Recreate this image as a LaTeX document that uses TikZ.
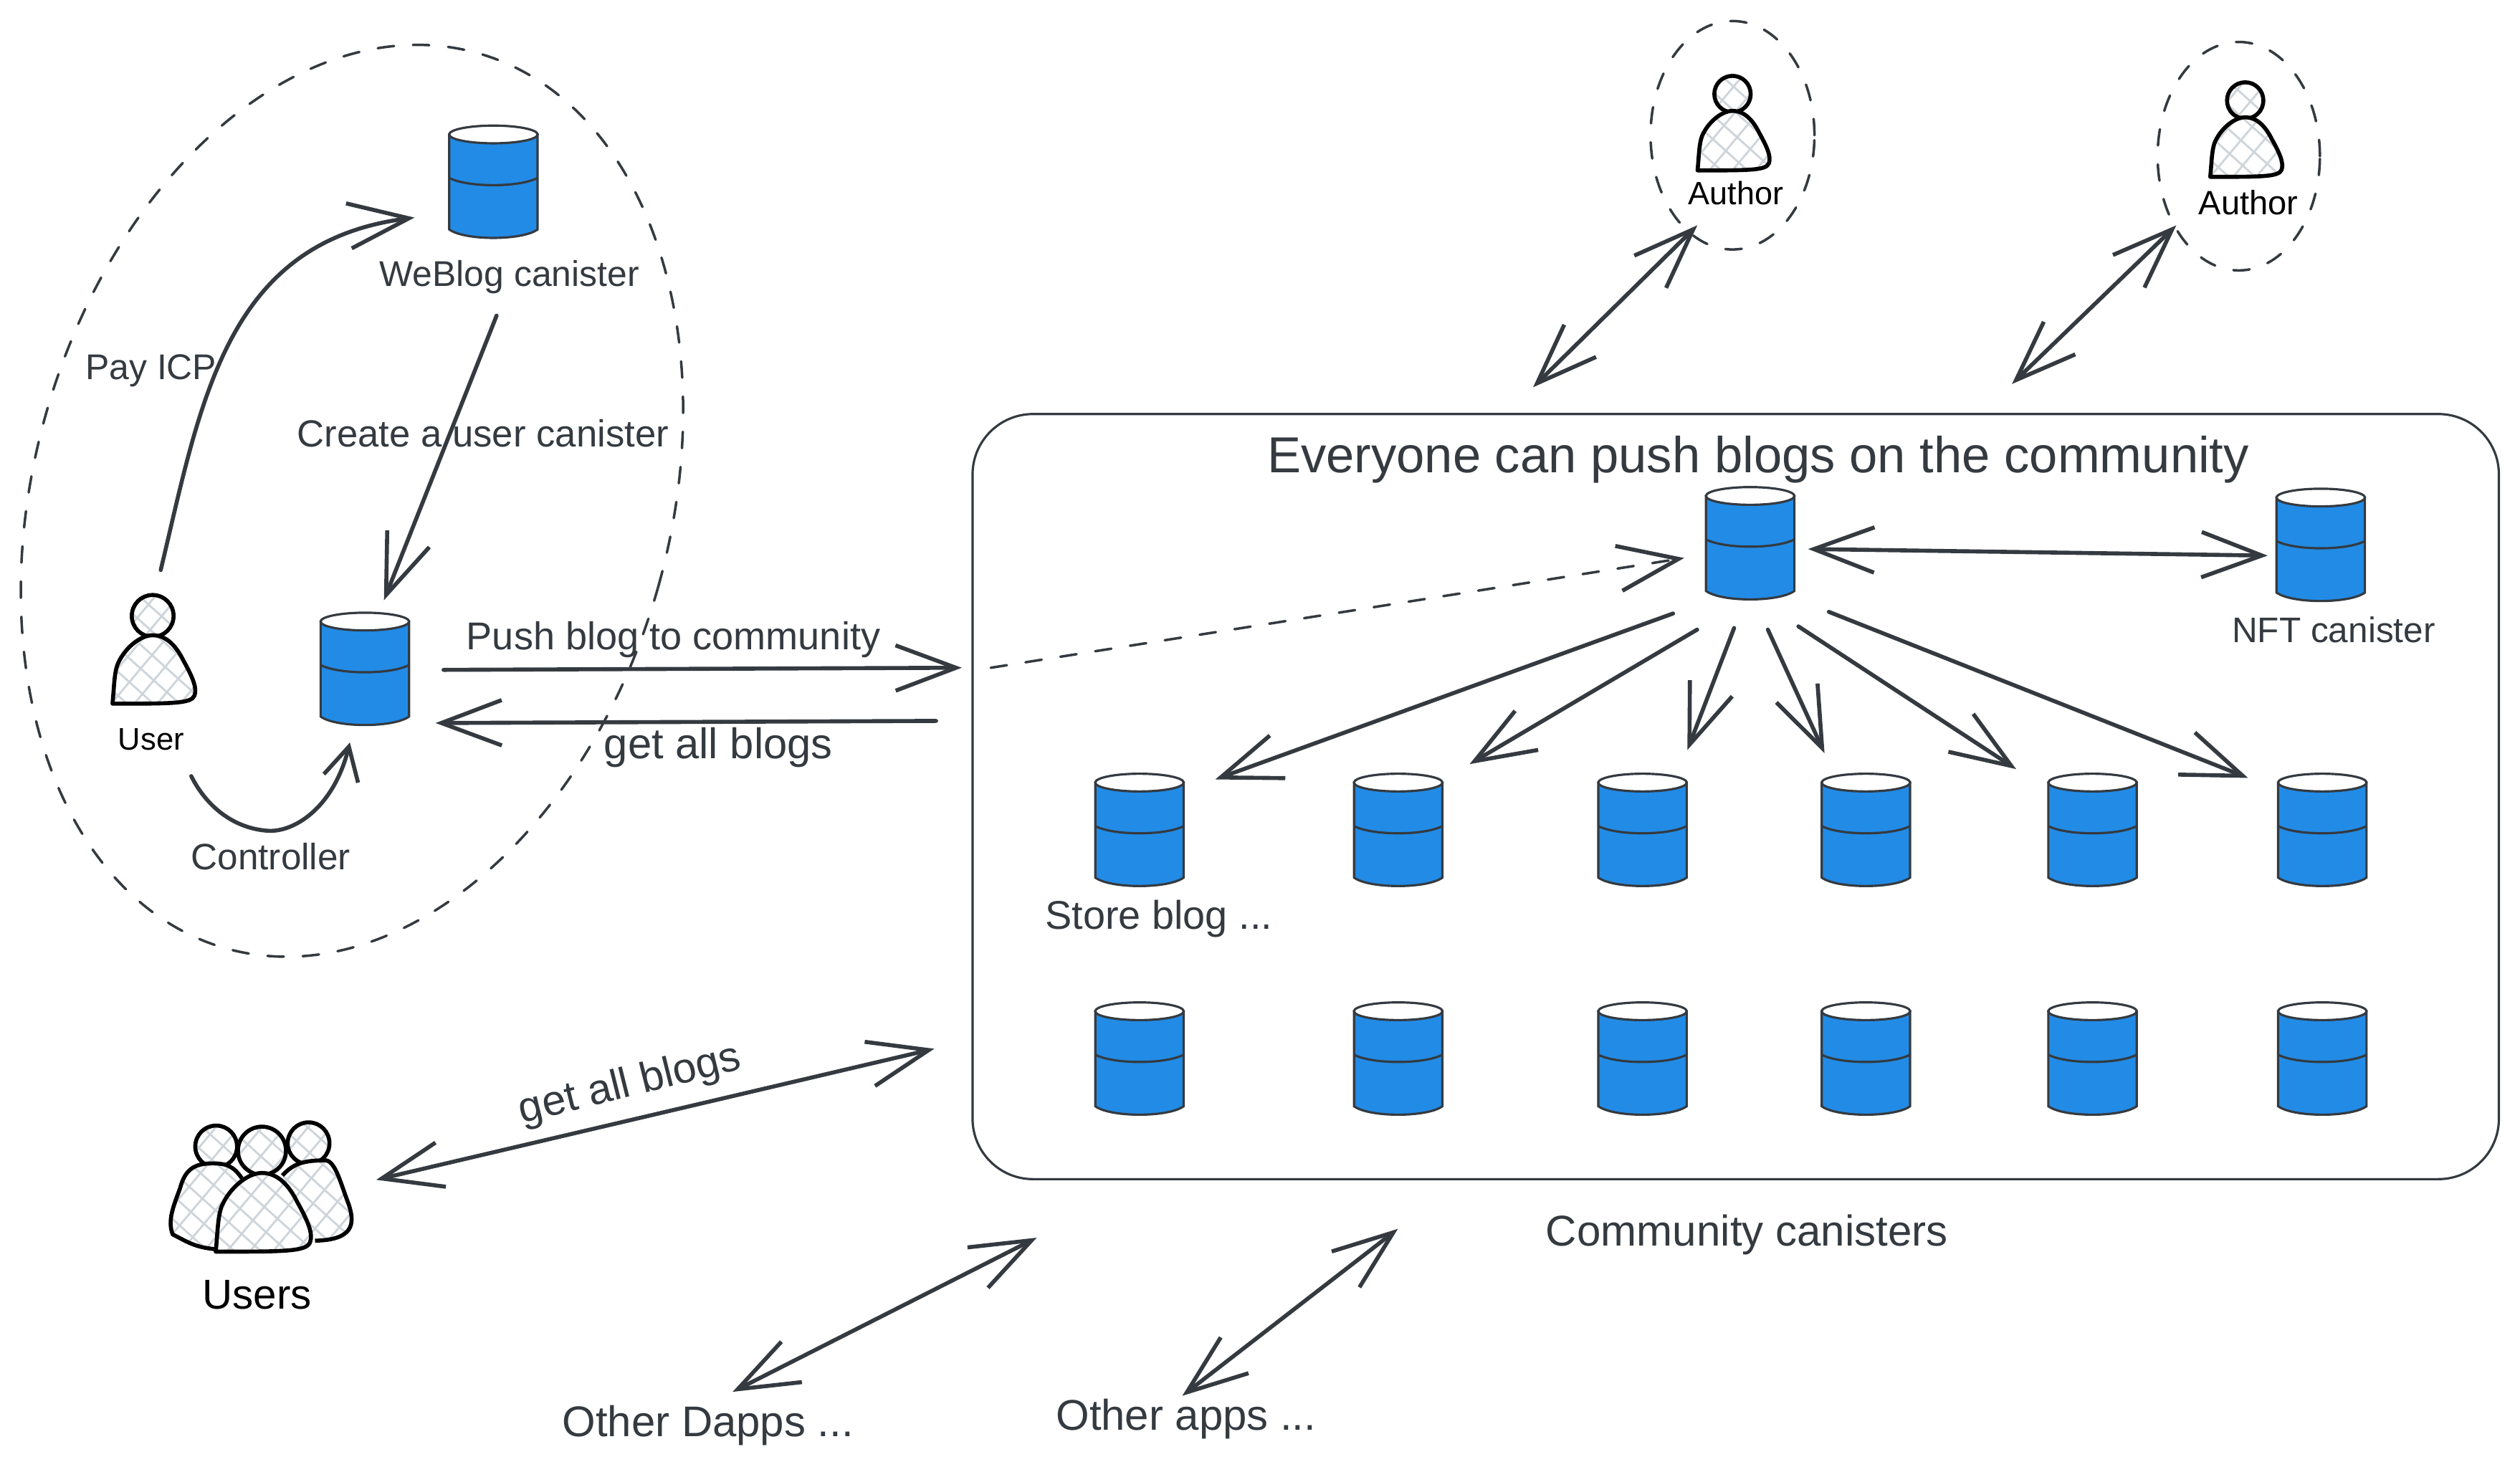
\documentclass[tikz,border=0pt]{standalone}
\usepackage{fontspec}
\setmainfont{Liberation Sans}
\usepackage{xcolor}
\definecolor{ink}{HTML}{343A40}
\definecolor{b1}{HTML}{228BE6}
\definecolor{h1}{HTML}{CED4DA}
\usetikzlibrary{arrows.meta,shapes.geometric,patterns.meta}
\newcommand{\fsz}[1]{\fontsize{#1}{#1}\selectfont}
\tikzset{
  bigtip/.tip={Straight Barb[length=24pt,width=18pt,line width=1.6pt]},
  smalltip/.tip={Straight Barb[length=13pt,width=14pt,line width=1.6pt]},
  link/.style={draw=ink,line width=1.6pt,line cap=round,shorten >=-1.9pt},
  bothway/.style={link,shorten <=-1.9pt},
  loosedash/.style={draw=ink,line width=1pt,line cap=round,dash pattern=on 6.5pt off 7.5pt},
  lbl/.style={text=ink,inner sep=0pt},
  hatched/.style={preaction={fill=white},preaction={pattern={Lines[angle=50,distance=7pt,line width=0.8pt]},pattern color=h1},pattern={Lines[angle=-42,distance=7pt,line width=0.8pt]},pattern color=h1},
  canister/.style={inner sep=0pt,minimum width=1.3cm,minimum height=1.66cm,path picture={
    \begin{scope}[shift={(path picture bounding box.center)},line width=0.9pt]
      \draw[draw=ink,fill=b1] (-27.5,-30) -- (27.5,-30) -- (27.5,29) .. controls (18,36) and (-18,36) .. (-27.5,29) -- cycle;
      \draw[draw=ink] (-27.5,-3) .. controls (-16,3) and (16,3) .. (27.5,-3);
      \draw[draw=ink,fill=white] (0,-30) ellipse [x radius=27.5,y radius=5.5];
    \end{scope}}},
  person/.pic={
    \draw[line width=1.6pt,hatched] (0,-22.5) circle [radius=13];
    \draw[line width=1.6pt,line join=round,hatched] (-25,32) .. controls (-24,22) and (-24,14) .. (-22,8) .. controls (-18,-2) and (-8,-10.5) .. (0,-10.5) .. controls (9,-10.5) and (15,-3) .. (19,5) .. controls (24,14) and (28,22) .. (26,27) .. controls (24,32) and (12,32) .. (-25,32) -- cycle;
  }
}
\begin{document}
\begin{tikzpicture}[x=0.022423cm,y=-0.02248cm]
  \useasboundingbox (0,0) rectangle (1568,911);
  % scopes
  \node[loosedash,ellipse,inner sep=0pt,minimum width=396*0.638pt,minimum height=578*0.639pt,rotate=-15.7] (ownerzone) at (219,311) {};
  \node[loosedash,ellipse,inner sep=0pt,minimum width=102*0.638pt,minimum height=142*0.639pt] (authorzonea) at (1078,84) {};
  \node[loosedash,ellipse,inner sep=0pt,minimum width=101*0.638pt,minimum height=142*0.639pt] (authorzoneb) at (1393,97) {};
  \node[draw=ink,line width=0.9pt,rounded corners=24pt,inner sep=0pt,minimum width=950*0.638pt,minimum height=475.5*0.639pt] (community) at (1080,494.7) {};

  % canisters
  \node[canister] (weblog) at (307,113.5) {};
  \node[canister] (usercan) at (227,416) {};
  \node[canister] (hub) at (1089,338) {};
  \node[canister] (nft) at (1444,339) {};
  \node[canister] (storea) at (709,516) {};
  \node[canister] (storeb) at (870,516) {};
  \node[canister] (storec) at (1022,516) {};
  \node[canister] (stored) at (1161,516) {};
  \node[canister] (storee) at (1302,516) {};
  \node[canister] (storef) at (1445,516) {};
  \node[canister] (storeg) at (709,658) {};
  \node[canister] (storeh) at (870,658) {};
  \node[canister] (storei) at (1022,658) {};
  \node[canister] (storej) at (1161,658) {};
  \node[canister] (storek) at (1302,658) {};
  \node[canister] (storel) at (1445,658) {};

  % people
  \pic at (95,405) {person};
  \pic[scale=0.87] at (1078,78) {person};
  \pic[scale=0.87] at (1397,82) {person};
  \draw[line width=1.6pt,hatched] (134.5,712) circle [radius=13];
  \draw[line width=1.6pt,hatched] (192,710) circle [radius=13];
  \draw[line width=1.6pt,hatched] (150.5,731.7) .. controls (145,724) and (141,722.5) .. (132,722.5) .. controls (120,722.5) and (115,727) .. (112,738) .. controls (108,749) and (104,758) .. (107.5,766.6) .. controls (118,772) and (122,775) .. (137,776);
  \draw[line width=1.6pt,hatched] (175.7,730) .. controls (183,722) and (190,720.6) .. (203,720.6) .. controls (209,722) and (212,735) .. (217,748) .. controls (221,760) and (220,770) .. (196,770.5);
  \pic[scale=1.15] at (163,740.5) {person};

  % labels
  \node[lbl,font=\fsz{14.2}] (weblogtxt) at (317,172) {WeBlog canister};
  \node[lbl,font=\fsz{14.2}] (paytxt) at (94,230) {Pay ICP};
  \node[lbl,font=\fsz{15}] (createtxt) at (300.5,269) {Create a user canister};
  \node[lbl,font=\fsz{15.4}] (pushtxt) at (419,397) {Push blog to community};
  \node[lbl,font=\fsz{17}] (gettxt) at (447,464) {get all blogs};
  \node[inner sep=0pt,font=\fsz{12.4}] (usertxt) at (94,459) {User};
  \node[lbl,font=\fsz{14.6}] (ctrltxt) at (168.5,532) {Controller};
  \node[lbl,font=\fsz{20.1}] (titletxt) at (1094,285.5) {Everyone can push blogs on the community};
  \node[lbl,font=\fsz{14.1}] (nfttxt) at (1452,391) {NFT canister};
  \node[lbl,font=\fsz{15.9}] (storetxt) at (721,570.5) {Store blog ...};
  \node[inner sep=0pt,font=\fsz{12.8}] (authortxta) at (1080,120) {Author};
  \node[inner sep=0pt,font=\fsz{13.4}] (authortxtb) at (1399,126) {Author};
  \node[inner sep=0pt,font=\fsz{16.6}] (userstxt) at (160,804) {Users};
  \node[lbl,font=\fsz{16.9},rotate=14] (getrottxt) at (392,674) {get all blogs};
  \node[lbl,font=\fsz{17.1}] (commtxt) at (1087,767) {Community canisters};
  \node[lbl,font=\fsz{17.05}] (dappstxt) at (440.5,885) {Other Dapps ...};
  \node[lbl,font=\fsz{17.05}] (appstxt) at (738,881) {Other apps ...};

  % owner side
  \draw[link,-{bigtip}] ([shift={(6,-105)}]usertxt.center) .. controls (125,250) and (140,150) .. ([shift={(-52,22)}]weblog.center);
  \draw[link,-{bigtip}] ([shift={(2,82.5)}]weblog.center) -- ([shift={(13,-46)}]usercan.center);
  \draw[link,-{smalltip}] ([shift={(25,23)}]usertxt.center) .. controls (128,500) and (145,515) .. (168,516) .. controls (185,516) and (208,500) .. ([shift={(-10,48)}]usercan.center);
  \draw[link,-{bigtip}] ([shift={(49,0)}]usercan.center) -- ([shift={(-9,-80)}]community.west);
  \draw[link,-{bigtip}] ([shift={(-22,-47)}]community.west) -- ([shift={(47,33)}]usercan.center);
  \draw[loosedash,-{bigtip},shorten >=-1.9pt] ([shift={(12,-80)}]community.west) -- ([shift={(-44,9)}]hub.center);

  % hub fan
  \draw[bothway,{bigtip}-{bigtip}] ([shift={(39,3)}]hub.center) -- ([shift={(-36,6)}]nft.center);
  \draw[link,-{bigtip}] ([shift={(-48,43)}]hub.center) -- ([shift={(50,-33)}]storea.center);
  \draw[link,-{bigtip}] ([shift={(-33,53)}]hub.center) -- ([shift={(47,-43)}]storeb.center);
  \draw[link,-{bigtip}] ([shift={(-10,52)}]hub.center) -- ([shift={(29,-53)}]storec.center);
  \draw[link,-{bigtip}] ([shift={(11,53)}]hub.center) -- ([shift={(-27,-51)}]stored.center);
  \draw[link,-{bigtip}] ([shift={(30,51)}]hub.center) -- ([shift={(-50,-40)}]storee.center);
  \draw[link,-{bigtip}] ([shift={(49,42)}]hub.center) -- ([shift={(-49,-34)}]storef.center);

  % outside
  \draw[bothway,{bigtip}-{bigtip}] ([shift={(-24,58)}]authorzonea.center) -- ([shift={(-124,-18)}]community.north);
  \draw[bothway,{bigtip}-{bigtip}] ([shift={(-41,45)}]authorzoneb.center) -- ([shift={(174,-20)}]community.north);
  \draw[bothway,{bigtip}-{bigtip}] ([shift={(77,-72)}]userstxt.center) -- ([shift={(-26,-81)}]community.south west);
  \draw[bothway,{bigtip}-{bigtip}] ([shift={(18,-22)}]dappstxt.center) -- ([shift={(38,37)}]community.south west);
  \draw[bothway,{bigtip}-{bigtip}] ([shift={(0,-16)}]appstxt.center) -- ([shift={(263,32)}]community.south west);
\end{tikzpicture}
\end{document}
